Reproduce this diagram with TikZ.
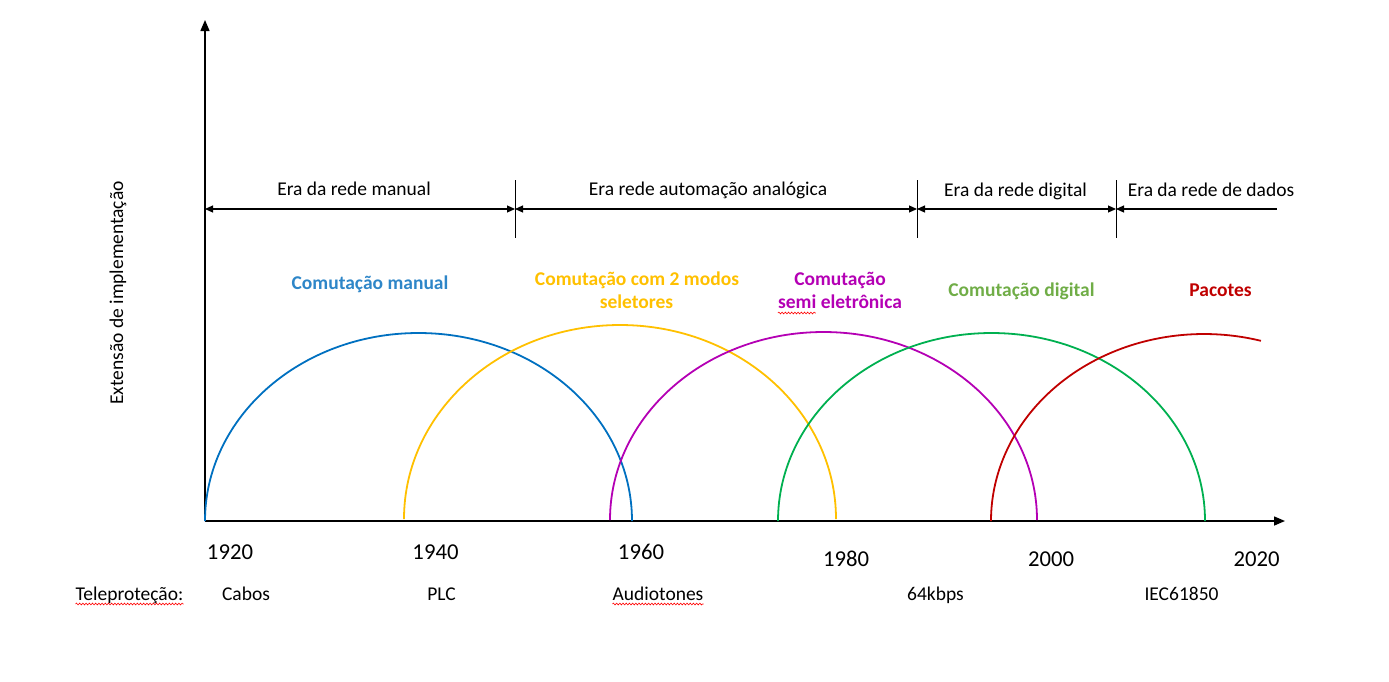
\documentclass[tikz,border=0pt]{standalone}
\usepackage{fontspec}
\setmainfont{Carlito}
\usetikzlibrary{arrows.meta, decorations.pathmorphing}
\definecolor{azul}{HTML}{0070C0}
\definecolor{azultexto}{HTML}{2E86C8}
\definecolor{amarelo}{HTML}{FFC000}
\definecolor{roxo}{HTML}{B400B4}
\definecolor{verde}{HTML}{00B050}
\definecolor{verdetexto}{HTML}{70AD47}
\definecolor{vermelho}{HTML}{C00000}
\tikzset{
	x=1pt, y=-1pt, % un punto por pixel, y hacia abajo
	eje/.style={line width=1.5pt, -{Triangle[length=11pt,width=9pt]}}, % ejes con punta gruesa
	era/.style={line width=1.1pt, {Triangle[length=8pt,width=7pt]}-{Triangle[length=8pt,width=7pt]}}, % flecha doble de cada era
	erafinal/.style={line width=1.1pt, {Triangle[length=8pt,width=7pt]}-}, % ultima era, abierta
	separador/.style={line width=1pt},
	curva/.style={line width=1.8pt}, % curvas de cada tecnologia
	texto/.style={font=\fontsize{19.5}{23}\selectfont, inner sep=0pt, anchor=base},
	ano/.style={font=\fontsize{22.7}{27}\selectfont, inner sep=0pt, anchor=base},
	etiqueta/.style={font=\bfseries\fontsize{19.5}{23}\selectfont, inner sep=0pt, anchor=base},
	corretor/.style={draw=red, line width=0.6pt, decorate, decoration={snake, amplitude=0.9pt, segment length=3.2pt}} % subrayado ondulado
}

\begin{document}
\begin{tikzpicture}
	\useasboundingbox (0,0) rectangle (1389,681);
	% ejes
	\coordinate (O) at (205,521);
	\coordinate (ytope) at (205,20);
	\coordinate (xfin) at (1285,521);
	\draw[eje] (O) -- (ytope);
	\draw[eje] (O) -- (xfin);
	\node[texto, rotate=90, anchor=center] (ylabel) at (118,293) {Extensão de implementação};
	% eras
	\coordinate (e0) at (205,209);
	\coordinate (e1) at (515,209);
	\coordinate (e2) at (917,209);
	\coordinate (e3) at (1116,209);
	\coordinate (e4) at (1277,209);
	\draw[separador] ([yshift=29pt]e1) -- ([yshift=-29pt]e1);
	\draw[separador] ([yshift=29pt]e2) -- ([yshift=-29pt]e2);
	\draw[separador] ([yshift=29pt]e3) -- ([yshift=-29pt]e3);
	\draw[era] (e0) -- (e1);
	\draw[era] (e1) -- (e2);
	\draw[era] (e2) -- (e3);
	\draw[erafinal] (e3) -- (e4);
	\node[texto] (emanual) at (354,195) {Era da rede manual};
	\node[texto] (eanalog) at (708,195) {Era rede automação analógica};
	\node[texto] (edigital) at (1015.5,196) {Era da rede digital};
	\node[texto] (edados) at (1211,196) {Era da rede de dados};
	% curvas
	\draw[curva, azul] (O) arc[start angle=180, end angle=0, x radius=213.5pt, y radius=188pt];
	\draw[curva, amarelo] (404,519) arc[start angle=180, end angle=0, x radius=216pt, y radius=194pt];
	\draw[curva, roxo] (610,520) arc[start angle=180, end angle=0, x radius=213.5pt, y radius=188pt];
	\draw[curva, verde] (778,521) arc[start angle=180, end angle=0, x radius=213.5pt, y radius=188pt];
	\draw[curva, vermelho] (991,521) arc[start angle=180, end angle=74.5, x radius=213pt, y radius=187pt];
	\node[etiqueta, azultexto] (lmanual) at (370,289) {Comutação manual};
	\node[etiqueta, amarelo] (l2modos) at (637,285) {Comutação com 2 modos};
	\node[etiqueta, amarelo] (lseletores) at (636.5,308) {seletores};
	\node[etiqueta, roxo] (lsemi1) at (840,285) {Comutação};
	\node[etiqueta, roxo] (lsemi2) at (840,308) {semi eletrônica};
	\node[etiqueta, verdetexto] (ldigital) at (1021.5,296) {Comutação digital};
	\node[etiqueta, vermelho] (lpacotes) at (1220.5,296) {Pacotes};
	% anos
	\node[ano] (a1920) at (230,559) {1920};
	\node[ano] (a1940) at (435.5,559) {1940};
	\node[ano] (a1960) at (641,559) {1960};
	\node[ano] (a1980) at (846,566) {1980};
	\node[ano] (a2000) at (1051,566) {2000};
	\node[ano] (a2020) at (1256.5,566) {2020};
	% teleproteccion
	\node[texto] (ltele) at (129.5,600) {Teleproteção:};
	\node[texto] (lcabos) at (246,600) {Cabos};
	\node[texto] (lplc) at (441.5,600) {PLC};
	\node[texto] (laudio) at (658,600) {Audiotones};
	\node[texto] (l64k) at (935.5,600) {64kbps};
	\node[texto] (liec) at (1181.5,600) {IEC61850};
	\draw[corretor] ([yshift=-4pt]ltele.base west) -- ([yshift=-4pt]ltele.base east);
	\draw[corretor] ([yshift=-4pt]laudio.base west) -- ([yshift=-4pt]laudio.base east);
	\draw[corretor] ([yshift=-5pt]lsemi2.base west) -- ++(38,0);
\end{tikzpicture}
\end{document}
